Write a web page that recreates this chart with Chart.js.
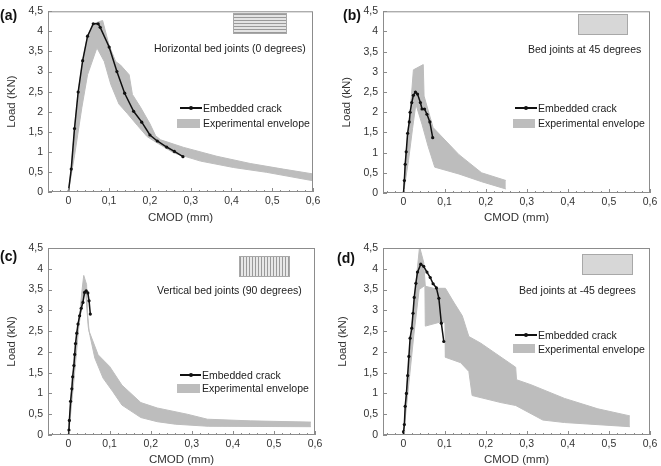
<!DOCTYPE html>
<html>
<head>
<meta charset="utf-8">
<script src="https://cdn.jsdelivr.net/npm/chart.js@4.4.0/dist/chart.umd.min.js"></script>
<style>
  body { margin: 0; background: #fff; font-family: "Liberation Sans", Arial, sans-serif; }
  #wrap { position: relative; width: 661px; height: 466px; overflow: hidden; }
  .panel { position: absolute; }
  .tag { position: absolute; font-weight: bold; font-size: 14px; color: #111; transform: translateY(-50%); }
  .txt { position: absolute; font-size: 10.5px; color: #222; white-space: nowrap; transform: translateY(-50%); }
  .sw { position: absolute; box-sizing: border-box; border: 1px solid #a8a8a8; }
  .hl { background: repeating-linear-gradient(to bottom, #9a9a9a 0 1px, #e4e4e4 1px 3px); }
  .vl { background: repeating-linear-gradient(to right, #9a9a9a 0 1px, #e8e8e8 1px 3px); }
  .dot { background: #e0e0e0 radial-gradient(#c2c2c2 0.5px, transparent 0.8px) 0 0 / 2px 2px; }
  .lline { position: absolute; height: 1.5px; background: #111; }
  .lmark { position: absolute; width: 4px; height: 4px; border-radius: 50%; background: #111; }
  .lbox { position: absolute; background: #bdbdbd; }
</style>
</head>
<body>
<div id="wrap">
  <div class="panel" style="left:0;top:0"><canvas id="ca" width="330" height="233"></canvas></div>
  <div class="panel" style="left:330px;top:0"><canvas id="cb" width="331" height="233"></canvas></div>
  <div class="panel" style="left:0;top:233px"><canvas id="cc" width="330" height="233"></canvas></div>
  <div class="panel" style="left:330px;top:233px"><canvas id="cd" width="331" height="233"></canvas></div>

  <div class="tag" style="left:0;top:15px">(a)</div>
  <div class="tag" style="left:343px;top:15px">(b)</div>
  <div class="tag" style="left:0;top:256px">(c)</div>
  <div class="tag" style="left:337px;top:258px">(d)</div>

  <div class="sw hl" style="left:233px;top:13px;width:54px;height:21px"></div>
  <div class="txt" style="left:154px;top:48px">Horizontal bed joints (0 degrees)</div>
  <div class="sw dot" style="left:578px;top:14px;width:50px;height:21px"></div>
  <div class="txt" style="left:528px;top:49px">Bed joints at 45 degrees</div>
  <div class="sw vl" style="left:239px;top:256px;width:51px;height:21px"></div>
  <div class="txt" style="left:157px;top:290px">Vertical bed joints (90 degrees)</div>
  <div class="sw dot" style="left:582px;top:254px;width:51px;height:21px"></div>
  <div class="txt" style="left:519px;top:290px">Bed joints at -45 degrees</div>

  <!-- legends -->
  <div class="lline" style="left:180px;top:107px;width:22px"></div>
  <div class="lmark" style="left:189px;top:106px"></div>
  <div class="txt" style="left:203px;top:108px">Embedded crack</div>
  <div class="lbox" style="left:177px;top:119px;width:23px;height:9px"></div>
  <div class="txt" style="left:203px;top:123px">Experimental envelope</div>

  <div class="lline" style="left:515px;top:107px;width:22px"></div>
  <div class="lmark" style="left:524px;top:106px"></div>
  <div class="txt" style="left:538px;top:108px">Embedded crack</div>
  <div class="lbox" style="left:513px;top:119px;width:22px;height:9px"></div>
  <div class="txt" style="left:538px;top:123px">Experimental envelope</div>

  <div class="lline" style="left:180px;top:374px;width:21px"></div>
  <div class="lmark" style="left:189px;top:373px"></div>
  <div class="txt" style="left:202px;top:375px">Embedded crack</div>
  <div class="lbox" style="left:177px;top:384px;width:23px;height:9px"></div>
  <div class="txt" style="left:202px;top:388px">Experimental envelope</div>

  <div class="lline" style="left:515px;top:334px;width:22px"></div>
  <div class="lmark" style="left:524px;top:333px"></div>
  <div class="txt" style="left:538px;top:335px">Embedded crack</div>
  <div class="lbox" style="left:513px;top:344px;width:22px;height:9px"></div>
  <div class="txt" style="left:538px;top:349px">Experimental envelope</div>
</div>

<script>
// axis ticks
const xTickValues = [0, 0.1, 0.2, 0.3, 0.4, 0.5, 0.6];
const xTickLabels = ['0', '0,1', '0,2', '0,3', '0,4', '0,5', '0,6'];
const yTickValues = [0, 0.5, 1, 1.5, 2, 2.5, 3, 3.5, 4, 4.5];
const yTickLabels = ['0', '0,5', '1', '1,5', '2', '2,5', '3', '3,5', '4', '4,5'];

// (a) horizontal bed joints
const aCrackX = [0, 0.007, 0.015, 0.024, 0.035, 0.047, 0.061, 0.073, 0.078, 0.1, 0.119, 0.138, 0.16, 0.18, 0.2, 0.218, 0.241, 0.26, 0.281];
const aCrackY = [0, 0.57, 1.58, 2.49, 3.27, 3.88, 4.19, 4.19, 4.1, 3.61, 3.0, 2.46, 2.01, 1.74, 1.42, 1.27, 1.12, 1.01, 0.88];
const aUpperX = [0, 0.007, 0.015, 0.024, 0.035, 0.047, 0.061, 0.075, 0.084, 0.1, 0.116, 0.128, 0.149, 0.157, 0.177, 0.2, 0.214, 0.226, 0.283, 0.364, 0.446, 0.527, 0.6];
const aUpperY = [0, 0.57, 1.58, 2.49, 3.27, 3.88, 4.19, 4.24, 4.27, 3.65, 3.25, 3.16, 2.92, 2.43, 2.11, 1.7, 1.4, 1.3, 1.11, 0.89, 0.71, 0.57, 0.45];
const aLowerX = [0, 0.015, 0.033, 0.047, 0.07, 0.088, 0.104, 0.124, 0.145, 0.169, 0.193, 0.218, 0.259, 0.324, 0.405, 0.486, 0.6];
const aLowerY = [0, 0.9, 2.1, 2.92, 3.59, 3.25, 2.68, 2.19, 1.95, 1.66, 1.38, 1.22, 0.97, 0.77, 0.61, 0.49, 0.28];

// (b) bed joints at 45 degrees
const bCrackX = [0, 0.002, 0.004, 0.0065, 0.01, 0.014, 0.016, 0.02, 0.024, 0.029, 0.034, 0.041, 0.045, 0.051, 0.057, 0.064, 0.071];
const bCrackY = [0, 0.31, 0.71, 1.02, 1.48, 1.76, 2.0, 2.24, 2.42, 2.5, 2.45, 2.24, 2.08, 2.08, 1.95, 1.76, 1.37];
const bUpperX = [0, 0.004, 0.01, 0.016, 0.024, 0.048, 0.05, 0.072, 0.135, 0.19, 0.249];
const bUpperY = [0, 0.71, 1.48, 2.0, 3.05, 3.18, 2.4, 1.62, 0.95, 0.5, 0.31];
const bLowerX = [0, 0.012, 0.022, 0.03, 0.045, 0.06, 0.076, 0.135, 0.19, 0.249];
const bLowerY = [0, 0.8, 1.6, 2.2, 1.7, 1.15, 0.64, 0.47, 0.28, 0.1];

// (c) vertical bed joints
const cCrackX = [0, 0.001, 0.002, 0.005, 0.008, 0.01, 0.013, 0.015, 0.017, 0.02, 0.023, 0.027, 0.031, 0.035, 0.039, 0.043, 0.047, 0.05, 0.053];
const cCrackY = [0, 0.12, 0.35, 0.81, 1.11, 1.4, 1.67, 1.94, 2.2, 2.45, 2.67, 2.87, 3.05, 3.19, 3.43, 3.47, 3.42, 3.23, 2.91];
const cUpperX = [0, 0.005, 0.013, 0.02, 0.027, 0.033, 0.037, 0.044, 0.046, 0.05, 0.072, 0.1, 0.13, 0.176, 0.216, 0.289, 0.338, 0.443, 0.59];
const cUpperY = [0, 0.81, 1.67, 2.45, 2.9, 3.5, 3.84, 3.62, 2.95, 2.5, 1.93, 1.65, 1.2, 0.78, 0.65, 0.5, 0.38, 0.34, 0.31];
const cLowerX = [0, 0.012, 0.025, 0.035, 0.042, 0.048, 0.052, 0.064, 0.084, 0.108, 0.13, 0.176, 0.216, 0.26, 0.34, 0.59];
const cLowerY = [0, 1.2, 2.6, 3.3, 3.4, 2.6, 2.4, 1.85, 1.37, 1.04, 0.72, 0.42, 0.32, 0.26, 0.21, 0.2];

// (d) bed joints at -45 degrees
const dCrackX = [0, 0, 0.002, 0.004, 0.007, 0.01, 0.013, 0.016, 0.02, 0.023, 0.026, 0.03, 0.034, 0.042, 0.049, 0.057, 0.065, 0.072, 0.08, 0.086, 0.092, 0.098];
const dCrackY = [0, 0.08, 0.25, 0.69, 1.0, 1.43, 1.89, 2.33, 2.57, 2.93, 3.31, 3.65, 3.92, 4.11, 4.06, 3.92, 3.79, 3.64, 3.54, 3.29, 2.69, 2.25];
const dUpperX = [0, 0.01, 0.02, 0.03, 0.039, 0.049, 0.053, 0.073, 0.102, 0.122, 0.143, 0.159, 0.188, 0.273, 0.275, 0.31, 0.392, 0.473, 0.551];
const dUpperY = [0, 1.43, 2.57, 3.65, 4.53, 4.16, 3.58, 3.53, 3.53, 3.2, 2.87, 2.37, 2.21, 1.63, 1.33, 1.21, 0.88, 0.63, 0.46];
const dLowerX = [0, 0.025, 0.038, 0.052, 0.053, 0.09, 0.101, 0.102, 0.139, 0.159, 0.167, 0.237, 0.273, 0.339, 0.392, 0.551];
const dLowerY = [0, 2.4, 3.5, 3.6, 2.62, 2.72, 2.7, 1.87, 1.74, 1.53, 0.95, 0.78, 0.71, 0.36, 0.3, 0.2];

const GREY = '#bdbdbd';
const FONT = 'Liberation Sans, Arial, sans-serif';

const pts = (xs, ys) => xs.map((x, i) => ({ x: x, y: ys[i] }));

// box round the plot area with small inward ticks
const framePlugin = {
  id: 'frame',
  afterDatasetsDraw(chart) {
    const { ctx, chartArea: a, scales: { x, y } } = chart;
    ctx.save();
    ctx.strokeStyle = '#8c8c8c';
    ctx.lineWidth = 1;
    ctx.strokeRect(a.left + 0.5, a.top + 0.5, a.width - 1, a.height - 1);
    ctx.beginPath();
    for (let k = -2; k <= 30; k++) {
      const px = Math.round(x.getPixelForValue(k * 0.02)) + 0.5;
      const len = k % 5 === 0 ? 4 : 2;
      ctx.moveTo(px, a.bottom);
      ctx.lineTo(px, a.bottom - len);
    }
    yTickValues.forEach(v => {
      const py = Math.round(y.getPixelForValue(v)) + 0.5;
      ctx.moveTo(a.left, py);
      ctx.lineTo(a.left + 4, py);
    });
    ctx.stroke();
    ctx.restore();
  }
};

function makePanel(id, crack, upper, lower, lay) {
  new Chart(document.getElementById(id), {
    type: 'scatter',
    data: {
      datasets: [
        {
          data: crack, showLine: true, borderColor: '#111', borderWidth: 1.5,
          pointRadius: 1.6, pointBackgroundColor: '#111', pointBorderWidth: 0
        },
        {
          data: upper, showLine: true, borderColor: GREY, borderWidth: 1,
          pointRadius: 0, backgroundColor: GREY, fill: '+1'
        },
        {
          data: lower, showLine: true, borderColor: GREY, borderWidth: 1,
          pointRadius: 0, fill: false
        }
      ]
    },
    options: {
      responsive: false,
      animation: false,
      layout: { padding: { top: lay.top, right: lay.right, left: 0, bottom: 0 } },
      plugins: { legend: { display: false }, tooltip: { enabled: false } },
      scales: {
        x: {
          type: 'linear', min: -0.05, max: 0.6,
          afterBuildTicks: s => { s.ticks = xTickValues.map(v => ({ value: v })); },
          afterFit: s => { s.height = lay.xH; },
          ticks: {
            callback: (v, i) => xTickLabels[i], autoSkip: false, maxRotation: 0,
            padding: 3, color: '#333', font: { family: FONT, size: 10.5 }
          },
          grid: { drawOnChartArea: false, drawTicks: false },
          border: { display: false },
          title: {
            display: true, text: 'CMOD (mm)', color: '#333',
            font: { family: FONT, size: 11.5, lineHeight: 1 },
            padding: { top: 0, bottom: lay.xtp }
          }
        },
        y: {
          min: 0, max: 4.5,
          afterBuildTicks: s => { s.ticks = yTickValues.map(v => ({ value: v })); },
          afterFit: s => { s.width = lay.yW; },
          ticks: {
            callback: (v, i) => yTickLabels[i], autoSkip: false,
            padding: 5, color: '#333', font: { family: FONT, size: 10.5 }
          },
          grid: { drawOnChartArea: false, drawTicks: false },
          border: { display: false },
          title: {
            display: true, text: lay.yTitle, color: '#333',
            font: { family: FONT, size: 11.5, lineHeight: 1 },
            padding: { top: lay.ytp, bottom: 0 }
          }
        }
      }
    },
    plugins: [framePlugin]
  });
}

makePanel('ca', pts(aCrackX, aCrackY), pts(aUpperX, aUpperY), pts(aLowerX, aLowerY),
  { top: 5, right: 17, yW: 48, xH: 41, xtp: 9, ytp: 6.5, yTitle: 'Load (KN)' });
makePanel('cb', pts(bCrackX, bCrackY), pts(bUpperX, bUpperY), pts(bLowerX, bLowerY),
  { top: 5, right: 11, yW: 53, xH: 40, xtp: 9, ytp: 11, yTitle: 'Load (kN)' });
makePanel('cc', pts(cCrackX, cCrackY), pts(cUpperX, cUpperY), pts(cLowerX, cLowerY),
  { top: 15, right: 15, yW: 48, xH: 31, xtp: 0, ytp: 6.5, yTitle: 'Load (kN)' });
makePanel('cd', pts(dCrackX, dCrackY), pts(dUpperX, dUpperY), pts(dLowerX, dLowerY),
  { top: 15, right: 11, yW: 53, xH: 31, xtp: 0, ytp: 7.5, yTitle: 'Load (kN)' });
</script>
</body>
</html>
